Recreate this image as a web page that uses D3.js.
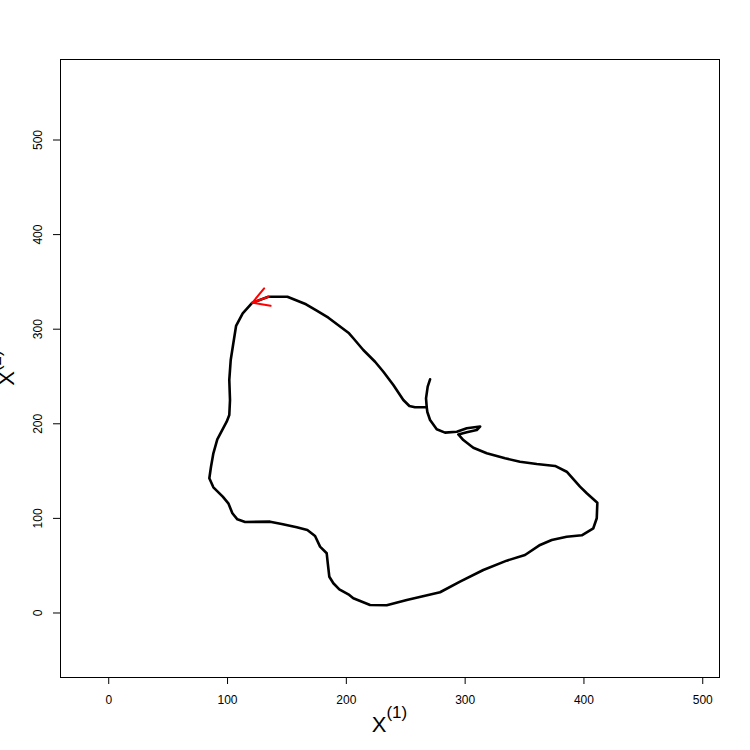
<!DOCTYPE html>
<html>
<head>
<meta charset="utf-8">
<script src="https://cdn.jsdelivr.net/npm/d3@7"></script>
<style>
  body { margin: 0; background: #fff; }
  svg { display: block; font-family: Arial, "Liberation Sans", sans-serif; }
</style>
</head>
<body>
<svg width="750" height="750"></svg>
<script>
// trajectory, in data units
var trackX = [268.1, 258.2, 253.5, 248.4, 240.0, 231.6, 224.6, 214.7, 206.3, 202.7,
              185.3, 175.5, 166.5, 150.8, 134.8, 121.3, 113.2, 107.6, 105.3, 103.1,
              101.9, 102.5, 101.9, 99.7, 91.8, 88.5, 86.5, 85.1, 88.5, 96.4,
              101.1, 104.5, 108.7, 115.2, 136.2, 146.0, 158.7, 167.6, 174.1, 178.3,
              183.9, 184.8, 186.1, 189.5, 194.5, 202.9, 206.3, 220.4, 234.4, 251.3,
              279.3, 296.1, 315.7, 335.4, 350.8, 363.5, 373.3, 385.9, 398.6, 408.3,
              411.2, 411.7, 402.8, 397.1, 385.9, 376.1, 360.7, 346.6, 334.0, 318.6,
              307.3, 298.9, 294.7, 301.8, 310.2, 313.0, 301.8, 293.4, 283.5, 276.5,
              270.9, 268.6, 268.1, 267.5, 268.9, 270.9];
var trackY = [216.9, 216.9, 218.3, 224.6, 240.5, 254.5, 265.1, 277.5, 289.9, 295.1,
              311.6, 319.0, 325.8, 333.8, 333.8, 327.5, 316.3, 302.9, 284.6, 266.9,
              245.8, 224.6, 208.8, 201.7, 183.1, 168.3, 154.1, 141.9, 132.3, 122.4,
              115.4, 104.9, 98.5, 95.7, 96.0, 93.6, 90.1, 87.2, 80.9, 69.6,
              62.6, 52.0, 37.8, 30.9, 24.5, 18.5, 15.0, 7.9, 7.6, 13.2,
              21.4, 32.6, 44.9, 54.8, 60.8, 71.4, 76.6, 80.1, 81.6, 89.0,
              99.6, 116.1, 126.0, 133.0, 148.8, 154.9, 157.0, 159.4, 163.0, 168.3,
              174.2, 182.3, 188.2, 190.5, 192.9, 196.6, 194.7, 191.1, 190.1, 193.7,
              203.5, 211.9, 216.9, 226.4, 238.7, 246.5];
// the red arrow is drawn on the segment from this point to the next
var arrowIndex = 14;

var xTicks = [0, 100, 200, 300, 400, 500];
var yTicks = [0, 100, 200, 300, 400, 500];

var svg = d3.select("svg"),
    box = {left: 60, right: 719, top: 59, bottom: 677};

var x = d3.scaleLinear()
    .domain([-40.6, 514.1])
    .range([box.left, box.right]);

var y = d3.scaleLinear()
    .domain([-68.2, 585.1])
    .range([box.bottom, box.top]);

// x axis
var gx = svg.append("g")
    .attr("transform", "translate(0," + box.bottom + ")")
    .call(d3.axisBottom(x).tickValues(xTicks).tickSize(7).tickFormat(d3.format("d")));
gx.select(".domain").remove();
gx.selectAll(".tick line").attr("stroke", "#000");
gx.selectAll(".tick text")
    .attr("y", 26.5)
    .attr("dy", 0)
    .attr("fill", "#000")
    .style("font-size", "12px")
    .style("font-family", "Arial, 'Liberation Sans', sans-serif");

// y axis, labels turned like R does
var gy = svg.append("g")
    .attr("transform", "translate(" + box.left + ",0)")
    .call(d3.axisLeft(y).tickValues(yTicks).tickSize(7).tickFormat(d3.format("d")));
gy.select(".domain").remove();
gy.selectAll(".tick line").attr("stroke", "#000");
gy.selectAll(".tick text")
    .attr("transform", "rotate(-90)")
    .attr("x", 0)
    .attr("y", -18.5)
    .attr("dy", 0)
    .attr("text-anchor", "middle")
    .attr("fill", "#000")
    .style("font-size", "12px")
    .style("font-family", "Arial, 'Liberation Sans', sans-serif");

// frame
svg.append("rect")
    .attr("x", box.left + 0.5)
    .attr("y", box.top + 0.5)
    .attr("width", box.right - box.left)
    .attr("height", box.bottom - box.top)
    .attr("fill", "none")
    .attr("stroke", "#000")
    .attr("stroke-width", 1);

// axis titles
var xt = svg.append("text")
    .attr("x", (box.left + box.right) / 2)
    .attr("y", 731.5)
    .attr("text-anchor", "middle")
    .attr("fill", "#000")
    .style("font-size", "22px");
xt.append("tspan").text("X");
xt.append("tspan").attr("dy", -13.5).style("font-size", "17px").text("(1)");

var yt = svg.append("text")
    .attr("transform", "translate(14," + (box.top + box.bottom) / 2 + ") rotate(-90)")
    .attr("text-anchor", "middle")
    .attr("fill", "#000")
    .style("font-size", "22px");
yt.append("tspan").text("X");
yt.append("tspan").attr("dy", -13.5).style("font-size", "17px").text("(2)");

// the trajectory
var pts = trackX.map(function(d, i) { return [d, trackY[i]]; });

var line = d3.line()
    .x(function(d) { return x(d[0]); })
    .y(function(d) { return y(d[1]); });

svg.append("path")
    .datum(pts)
    .attr("d", line)
    .attr("fill", "none")
    .attr("stroke", "#000")
    .attr("stroke-width", 2.6)
    .attr("stroke-linejoin", "round")
    .attr("stroke-linecap", "round");

// red arrow showing the direction
var a0 = pts[arrowIndex], a1 = pts[arrowIndex + 1],
    x0 = x(a0[0]), y0 = y(a0[1]), x1 = x(a1[0]), y1 = y(a1[1]),
    back = Math.atan2(y0 - y1, x0 - x1),
    headLen = 18.5,
    spread = Math.PI / 6;

var arrowPath = d3.path();
arrowPath.moveTo(x0, y0);
arrowPath.lineTo(x1, y1);
arrowPath.moveTo(x1 + headLen * Math.cos(back - spread), y1 + headLen * Math.sin(back - spread));
arrowPath.lineTo(x1, y1);
arrowPath.lineTo(x1 + headLen * Math.cos(back + spread), y1 + headLen * Math.sin(back + spread));

svg.append("path")
    .attr("d", arrowPath.toString())
    .attr("fill", "none")
    .attr("stroke", "#ff0000")
    .attr("stroke-width", 2)
    .attr("stroke-linecap", "round");
</script>
</body>
</html>
